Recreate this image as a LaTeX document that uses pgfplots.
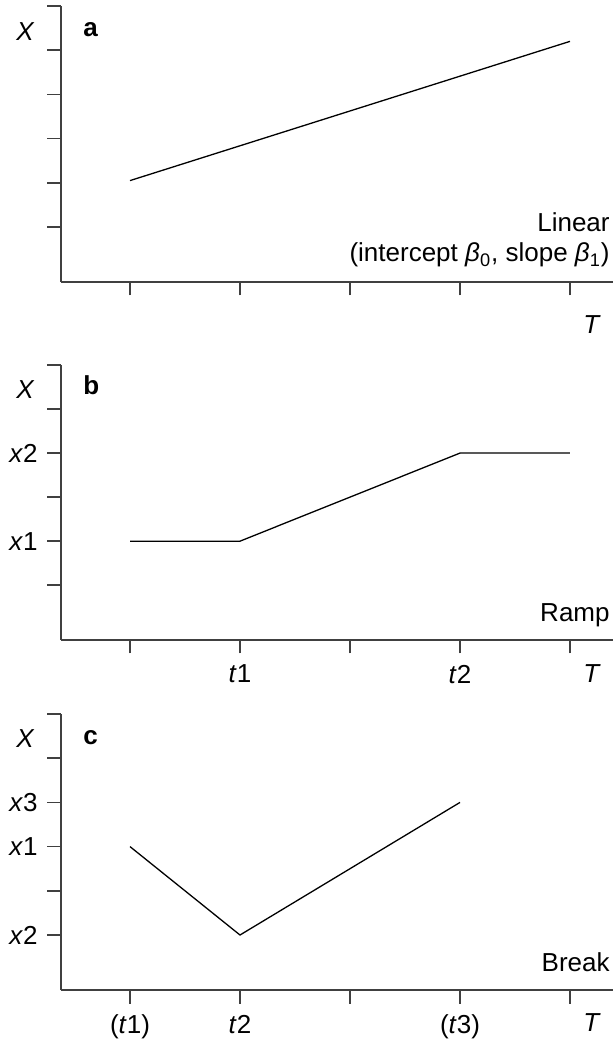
\documentclass[border=0pt]{standalone}
\usepackage{fontspec}
\setmainfont{Liberation Sans}
\usepackage{pgfplots}
\pgfplotsset{compat=1.18}
\definecolor{axgray}{HTML}{404040}
\pgfplotsset{
 myax/.style={
  scale only axis, width=276pt, height=138pt,
  xmin=0.3727, xmax=5.391, ymin=-1.244, ymax=5,
  axis x line=bottom, axis y line=left,
  axis line style={-, axgray, line width=0.85pt},
  major tick style={axgray, line width=0.85pt},
  tick align=outside, major tick length=6.75pt,
  xtick={1,2,3,4,5}, ytick={0,1,2,3,4,5},
  ticklabel style={font=\fontsize{13}{15.6}\selectfont, inner sep=0pt},
  xticklabel style={yshift=-5.5pt},
  yticklabel style={xshift=-4.75pt},
  clip=false,
  anchor=south west,
 },
 dline/.style={black, line width=0.65pt, mark=none},
}
\begin{document}
\fontsize{13}{15.6}\selectfont
\begin{tikzpicture}
\useasboundingbox (0,0) rectangle (306.5pt,520pt);
% Panel a
\begin{axis}[myax, at={(30.5pt,379pt)}, xticklabels={}, yticklabels={}]
\addplot[dline] coordinates {(1,1.05) (5,4.2)};
\node[anchor=base west, inner sep=0pt, xshift=11pt, font=\bfseries] at (axis cs:0.3727,4.32) {a};
\node[anchor=base east, inner sep=0pt, xshift=-13pt] at (axis cs:0.3727,4.21) {\textit{X}};
\node[inner sep=0pt, yshift=-21.5pt] at (rel axis cs:0.962,0) {\textit{T}};
\node[anchor=base east, inner sep=0pt, xshift=-1.5pt, yshift=25pt] at (rel axis cs:1,0) {Linear};
\node[anchor=base east, inner sep=0pt, xshift=-1.5pt, yshift=10pt] at (rel axis cs:1,0) {(intercept \textit{β}\textsubscript{0}, slope \textit{β}\textsubscript{1})};
\end{axis}
% Panel b
\begin{axis}[myax, at={(30.5pt,200pt)}, height=137.5pt,
  xticklabels={,\textit{t}1,,\textit{t}2,},
  yticklabels={,\textit{x}1,,\textit{x}2,,}]
\addplot[dline] coordinates {(1,1) (2,1) (4,3) (5,3)};
\node[anchor=base west, inner sep=0pt, xshift=11pt, font=\bfseries] at (axis cs:0.3727,4.32) {b};
\node[anchor=base east, inner sep=0pt, xshift=-13pt] at (axis cs:0.3727,4.25) {\textit{X}};
\node[inner sep=0pt, yshift=-17pt] at (rel axis cs:0.962,0) {\textit{T}};
\node[anchor=base east, inner sep=0pt, xshift=-1.5pt, yshift=9.15pt] at (rel axis cs:1,0) {Ramp};
\end{axis}
% Panel c
\begin{axis}[myax, at={(30.5pt,25pt)},
  xticklabels={(\textit{t}1),\textit{t}2,,(\textit{t}3),},
  yticklabels={\textit{x}2,,\textit{x}1,\textit{x}3,,}]
\addplot[dline] coordinates {(1,2) (2,0) (4,3)};
\node[anchor=base west, inner sep=0pt, xshift=11pt, font=\bfseries] at (axis cs:0.3727,4.32) {c};
\node[anchor=base east, inner sep=0pt, xshift=-13pt] at (axis cs:0.3727,4.25) {\textit{X}};
\node[inner sep=0pt, yshift=-16.5pt] at (rel axis cs:0.962,0) {\textit{T}};
\node[anchor=base east, inner sep=0pt, xshift=-1.5pt, yshift=9.15pt] at (rel axis cs:1,0) {Break};
\end{axis}
\end{tikzpicture}
\end{document}
